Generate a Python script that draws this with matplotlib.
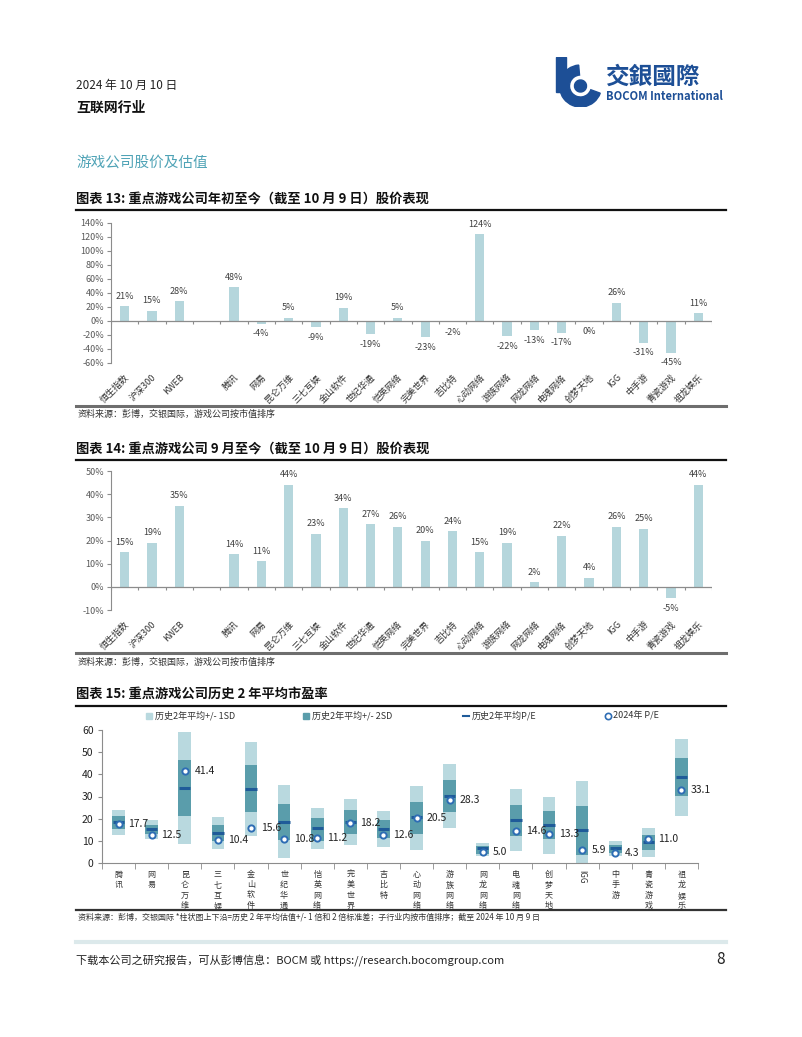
import matplotlib
matplotlib.use("Agg")
import matplotlib.pyplot as plt
import numpy as np
from matplotlib.patches import Rectangle, Wedge
from matplotlib.lines import Line2D

plt.rcParams['font.family'] = ['Noto Sans CJK SC', 'DejaVu Sans']

# ---------------- data ----------------
bar_names = ['恒生指数', '沪深300', 'KWEB', '', '腾讯', '网易', '昆仑万维', '三七互娱', '金山软件',
             '世纪华通', '恺英网络', '完美世界', '吉比特', '心动网络', '游族网络', '网龙网络',
             '电魂网络', '创梦天地', 'IGG', '中手游', '青瓷游戏', '祖龙娱乐']
ytd_pct = [21, 15, 28, None, 48, -4, 5, -9, 19, -19, 5, -23, -2, 124, -22, -13, -17, 0, 26, -31, -45, 11]
sep_pct = [15, 19, 35, None, 14, 11, 44, 23, 34, 27, 26, 20, 24, 15, 19, 2, 22, 4, 26, 25, -5, 44]

pe_names = ['腾讯', '网易', '昆仑万维', '三七互娱', '金山软件', '世纪华通', '恺英网络', '完美世界', '吉比特',
            '心动网络', '游族网络', '网龙网络', '电魂网络', '创梦天地', 'IGG', '中手游', '青瓷游戏', '祖龙娱乐']
pe_outer_hi = [23.8, 19.2, 58.9, 20.8, 54.6, 35.1, 24.9, 28.9, 23.5, 34.9, 44.8, 9.1, 33.6, 30.0, 36.9, 10.0, 16.0, 55.9]
pe_outer_lo = [12.7, 10.9, 8.7, 6.4, 12.4, 2.2, 6.4, 8.1, 7.2, 5.8, 15.7, 3.1, 5.2, 4.0, -1.0, 3.3, 2.7, 21.4]
pe_inner_hi = [21.0, 17.2, 46.3, 17.1, 44.2, 26.8, 20.2, 23.8, 19.3, 27.6, 37.3, 7.8, 26.2, 23.5, 25.5, 8.1, 12.7, 47.4]
pe_inner_lo = [15.3, 13.2, 21.3, 10.0, 23.2, 10.5, 9.7, 13.2, 11.2, 13.0, 22.9, 4.2, 12.3, 10.8, 3.4, 4.5, 6.0, 30.1]
pe_mean = [18.3, 15.3, 33.9, 13.6, 33.6, 18.7, 15.9, 18.6, 15.4, 20.8, 30.4, 6.6, 19.5, 17.1, 14.7, 6.7, 9.4, 38.8]
pe_2024 = [17.7, 12.5, 41.4, 10.4, 15.6, 10.8, 11.2, 18.2, 12.6, 20.5, 28.3, 5.0, 14.6, 13.3, 5.9, 4.3, 11.0, 33.1]

# ---------------- style ----------------
W, H = 802, 1037
BAR = '#b5d6dc'
LIGHT = '#b9d9df'
DARK = '#5a9dab'
MEAN = '#1f5b99'
PEC = '#2e6db4'
TXT = '#404040'
AX = '#8c8c8c'
NAVY = '#1d4f96'

fig = plt.figure(figsize=(W / 100, H / 100), dpi=100)
fig.patch.set_facecolor('white')


def fx(x):
    return x / W


def fy(y):
    return 1 - y / H


def add_ax(x0, y0, x1, y1):
    return fig.add_axes([fx(x0), fy(y1), (x1 - x0) / W, (y1 - y0) / H])


def hline(y, x0, x1, color, lw):
    fig.add_artist(Line2D([fx(x0), fx(x1)], [fy(y), fy(y)], color=color, lw=lw, transform=fig.transFigure))


# ---------------- header ----------------
fig.text(fx(76), fy(85), '2024 年 10 月 10 日', fontsize=8.5, color='#222222', va='center')
fig.text(fx(76), fy(108), '互联网行业', fontsize=10, fontweight='bold', color='#111111', va='center')

# logo
lax = add_ax(553, 57, 603, 107)
lax.set_xlim(0, 1)
lax.set_ylim(0, 1)
lax.axis('off')
lax.add_patch(Wedge((0.55, 0.42), 0.42, 95, 340, width=0.2, color=NAVY))
lax.add_patch(Rectangle((0.05, 0.3), 0.2, 0.7, color=NAVY))
lax.add_patch(Wedge((0.55, 0.42), 0.12, 0, 360, color=NAVY))
fig.text(fx(606), fy(77), '交銀國際', fontsize=17, fontweight='bold', color=NAVY, va='center')
fig.text(fx(606), fy(97), 'BOCOM International', fontsize=8, fontweight='bold', color=NAVY, va='center')

fig.text(fx(76), fy(163), '游戏公司股价及估值', fontsize=10.5, color='#4fa3b6', va='center')


def bar_chart(title, ty, ly, ax_box, ylim, yticks, values, bottom_line, src_y, lab_off):
    fig.text(fx(76), fy(ty), title, fontsize=9.5, fontweight='bold', color='#111111', va='center')
    hline(ly, 76, 726, '#111111', 1.6)
    ax = add_ax(*ax_box)
    n = len(values)
    x = np.arange(n)
    vals = [np.nan if v is None else v for v in values]
    ax.bar(x, vals, width=0.34, color=BAR, zorder=2)
    for xi, v in zip(x, values):
        if v is None:
            continue
        if v > 0:
            ax.annotate(f'{v}%', (xi, v), xytext=(0, 4), textcoords='offset points',
                        ha='center', va='bottom', fontsize=6.5, color=TXT)
        else:
            ax.annotate(f'{v}%', (xi, v), xytext=(0, -lab_off), textcoords='offset points',
                        ha='center', va='top', fontsize=6.5, color=TXT)
    ax.set_xlim(-0.5, n - 0.5)
    ax.set_ylim(*ylim)
    ax.set_yticks(yticks)
    ax.set_yticklabels([f'{t}%' for t in yticks], fontsize=6.5, color='#595959')
    for s in ['top', 'right', 'bottom']:
        ax.spines[s].set_visible(False)
    ax.spines['left'].set_color(AX)
    ax.tick_params(axis='y', length=3, color=AX, pad=2)
    ax.axhline(0, color=AX, lw=0.9, zorder=3)
    span = ylim[1] - ylim[0]
    ax.vlines(np.arange(n + 1) - 0.5, 0, -span * 0.02, color=AX, lw=0.8)
    ax.set_xticks(x)
    ax.set_xticklabels(bar_names, rotation=45, ha='right', va='top', rotation_mode='anchor',
                       fontsize=6.5, color='#333333')
    ax.tick_params(axis='x', length=0, pad=7)
    ax.patch.set_alpha(0)
    hline(bottom_line, 76, 726, '#6e6e6e', 2.2)
    fig.text(fx(78), fy(src_y), '资料来源：彭博，交银国际，游戏公司按市值排序', fontsize=6.5,
             color='#333333', va='center')
    return ax


bar_chart('图表 13: 重点游戏公司年初至今（截至 10 月 9 日）股价表现', 199, 210,
          (111, 223, 712, 363), (-60, 140), list(range(-60, 141, 20)), ytd_pct, 406, 414, 4)
bar_chart('图表 14: 重点游戏公司 9 月至今（截至 10 月 9 日）股价表现', 449, 460,
          (111, 471, 712, 610), (-10, 50), list(range(-10, 51, 10)), sep_pct, 653, 662, 4)

# ---------------- chart 15 ----------------
fig.text(fx(76), fy(694), '图表 15: 重点游戏公司历史 2 年平均市盈率', fontsize=9.5, fontweight='bold',
         color='#111111', va='center')
hline(706, 76, 726, '#111111', 1.6)

ax = add_ax(102, 730, 698, 863)
m = len(pe_names)
x = np.arange(m)
w = 0.38
lo = np.array(pe_outer_lo)
ax.bar(x, np.array(pe_outer_hi) - lo, bottom=lo, width=w, color=LIGHT, zorder=1)
ilo = np.array(pe_inner_lo)
ax.bar(x, np.array(pe_inner_hi) - ilo, bottom=ilo, width=w, color=DARK, zorder=2)
ax.hlines(pe_mean, x - w / 2 + 0.02, x + w / 2 - 0.02, color=MEAN, lw=2.2, zorder=3)
ax.plot(x, pe_2024, 'o', ms=4.5, mfc='white', mec=PEC, mew=1.4, zorder=4, ls='none')
for xi, v in zip(x, pe_2024):
    ax.annotate(f'{v:.1f}', (xi, v), xytext=(7, 0), textcoords='offset points', ha='left', va='center',
                fontsize=7.5, color='#222222')
ax.set_xlim(-0.5, m - 0.5)
ax.set_ylim(0, 60)
ax.set_yticks(range(0, 61, 10))
ax.set_yticklabels([str(t) for t in range(0, 61, 10)], fontsize=7.5, color='#222222')
for s in ['top', 'right']:
    ax.spines[s].set_visible(False)
ax.spines['left'].set_color(AX)
ax.spines['bottom'].set_color(AX)
ax.tick_params(axis='y', length=3, color=AX, pad=3)
ax.set_xticks(np.arange(m + 1) - 0.5, minor=True)
ax.tick_params(axis='x', which='minor', length=4, color=AX)
ax.set_xticks(x)
xlabs = ax.set_xticklabels(['\n'.join(n) if n != 'IGG' else n for n in pe_names], fontsize=5.8,
                           color='#333333', linespacing=1.2, va='top')
for t, n in zip(xlabs, pe_names):
    if n == 'IGG':
        t.set_rotation(-90)
ax.tick_params(axis='x', which='major', length=0, pad=5)
ax.patch.set_alpha(0)

# legend
ly = 716
fig.add_artist(Line2D([fx(149)], [fy(ly)], marker='s', ms=5, color=LIGHT, ls='none', transform=fig.transFigure))
fig.text(fx(155), fy(ly), '历史2年平均+/- 1SD', fontsize=6.5, color='#333333', va='center')
fig.add_artist(Line2D([fx(306)], [fy(ly)], marker='s', ms=5, color=DARK, ls='none', transform=fig.transFigure))
fig.text(fx(312), fy(ly), '历史2年平均+/- 2SD', fontsize=6.5, color='#333333', va='center')
fig.add_artist(Line2D([fx(463), fx(469)], [fy(ly), fy(ly)], color=MEAN, lw=1.5, transform=fig.transFigure))
fig.text(fx(472), fy(ly), '历史2年平均P/E', fontsize=6.5, color='#333333', va='center')
fig.add_artist(Line2D([fx(608)], [fy(ly)], marker='o', ms=4.5, mfc='white', mec=PEC, mew=1.2, ls='none',
                      transform=fig.transFigure))
fig.text(fx(613), fy(ly), '2024年 P/E', fontsize=6.5, color='#333333', va='center')

hline(910, 76, 726, '#333333', 1.6)
fig.text(fx(78), fy(917), '资料来源：彭博，交银国际 *柱状图上下沿=历史 2 年平均估值+/- 1 倍和 2 倍标准差；子行业内按市值排序；截至 2024 年 10 月 9 日',
         fontsize=5.8, color='#333333', va='center')

# footer
hline(942, 76, 726, '#dce9eb', 3)
fig.text(fx(76), fy(960), '下载本公司之研究报告，可从彭博信息：BOCM 或 https://research.bocomgroup.com',
         fontsize=8, color='#222222', va='center')
fig.text(fx(725), fy(960), '8', fontsize=11, color='#222222', va='center', ha='right')

fig.savefig('out.png', dpi=100, facecolor='white')
